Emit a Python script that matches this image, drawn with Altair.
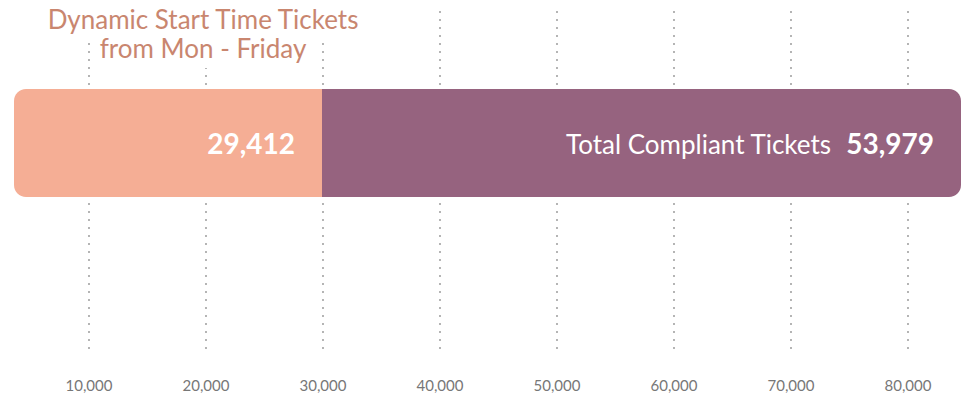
import altair as alt
import pandas as pd

# ---- data ----
categories = ["Dynamic Start Time Tickets", "Total Compliant Tickets"]
values = [29412, 53979]
bar_colors = ["#f5ae95", "#96637f"]
tick_values = [10000, 20000, 30000, 40000, 50000, 60000, 70000, 80000]
title_lines = ["Dynamic Start Time Tickets", "from Mon - Friday"]

starts = [0, values[0]]
ends = [values[0], values[0] + values[1]]
bars = pd.DataFrame({
    "cat": categories,
    "start": starts,
    "end": ends,
    "value": values,
    "color": bar_colors,
    "row": ["r", "r"],
})
ticks = pd.DataFrame({"tick": tick_values})

W, H = 947, 344
FONT = "Lato"

axis_scale = alt.Scale(domain=[3590, 84530], nice=False, zero=False)
bar_scale = alt.Scale(domain=[3394, 83391], nice=False, zero=False, clamp=True)
yband = alt.Scale(paddingInner=0, paddingOuter=0, range=[78, 186])

xtick = alt.X("tick:Q", scale=axis_scale, axis=None)

grid = alt.Chart(ticks).mark_rule(
    strokeDash=[2, 6], strokeWidth=1.6, color="#a3a3a3"
).encode(x=xtick)

tick_labels = alt.Chart(ticks).mark_text(
    font=FONT, fontSize=15, color="#777777", align="center", baseline="alphabetic"
).encode(x=xtick, y=alt.value(H + 36), text=alt.Text("tick:Q", format=","))

one = alt.Data(values=[{"a": 1}])
box1 = alt.Chart(one).mark_rect(color="white").encode(
    x=alt.value(30), x2=alt.value(348), y=alt.value(-3), y2=alt.value(27))
box2 = alt.Chart(one).mark_rect(color="white").encode(
    x=alt.value(81), x2=alt.value(301), y=alt.value(27), y2=alt.value(57))

title = alt.Chart(one).mark_text(
    text=title_lines, font=FONT, fontSize=26, color="#c9866f",
    align="center", baseline="alphabetic", lineHeight=29
).encode(x=alt.value(189), y=alt.value(18))

ybar = alt.Y("row:N", scale=yband, axis=None)
xbar = alt.X("start:Q", scale=bar_scale, axis=None)

orange = alt.Chart(bars).transform_filter(alt.datum.cat == categories[0]).mark_bar(
    cornerRadiusTopLeft=12, cornerRadiusBottomLeft=12
).encode(x=xbar, x2="end:Q", y=ybar, color=alt.Color("color:N", scale=None))

purple = alt.Chart(bars).transform_filter(alt.datum.cat == categories[1]).mark_bar(
    cornerRadiusTopRight=12, cornerRadiusBottomRight=12
).encode(x=xbar, x2="end:Q", y=ybar, color=alt.Color("color:N", scale=None))

xend = alt.X("end:Q", scale=bar_scale, axis=None)

lab1 = alt.Chart(bars).transform_filter(alt.datum.cat == categories[0]).mark_text(
    font=FONT, fontSize=28, fontWeight="bold", color="white", align="right",
    baseline="alphabetic", dx=-27, dy=11
).encode(x=xend, y=ybar, text=alt.Text("value:Q", format=","))

lab2 = alt.Chart(bars).transform_filter(alt.datum.cat == categories[1]).mark_text(
    font=FONT, fontSize=28, fontWeight="bold", color="white", align="right",
    baseline="alphabetic", dx=-27, dy=11
).encode(x=xend, y=ybar, text=alt.Text("value:Q", format=","))

lab3 = alt.Chart(bars).transform_filter(alt.datum.cat == categories[1]).mark_text(
    font=FONT, fontSize=26, color="white", align="right",
    baseline="alphabetic", dx=-130, dy=11
).encode(x=xend, y=ybar, text="cat:N")

chart = alt.layer(
    grid, tick_labels, box1, box2, title, orange, purple, lab1, lab2, lab3
).resolve_scale(x="independent").properties(
    width=W, height=H,
    padding={"left": 6, "top": 0, "right": 0, "bottom": 0},
).configure_view(stroke=None)

chart.save("out.html", embed_options={"renderer": "svg", "actions": False})
